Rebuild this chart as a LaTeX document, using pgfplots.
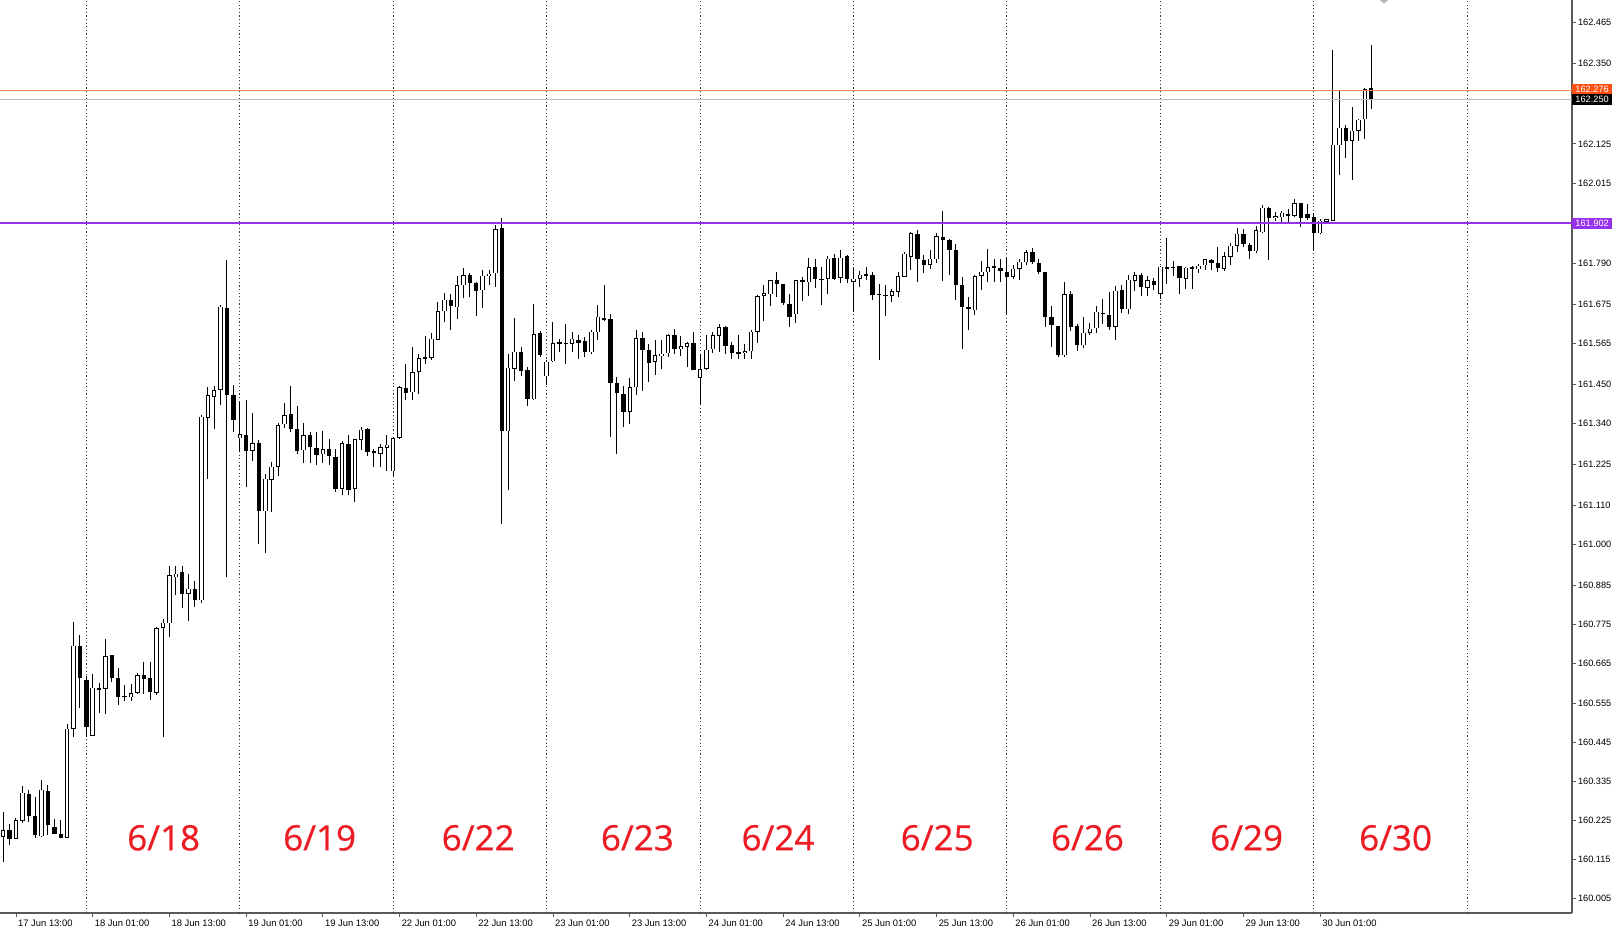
\documentclass[border=0pt]{standalone}
\usepackage{fontspec}
\setmainfont{Liberation Sans}
\newfontfamily\lblfont{Open Sans}[FakeBold=0.6]
\usepackage{pgfplots}
\usepackage{pgfplotstable}
\pgfplotsset{compat=1.18}
\definecolor{mtpurple}{RGB}{150,50,235}
\definecolor{mtorange}{RGB}{255,140,80}
\definecolor{mtorangebox}{RGB}{255,80,20}
\definecolor{datered}{RGB}{237,28,36}
\pgfplotstableread{
x o h l c
-13 160.179 160.249 160.109 160.198
-12 160.198 160.216 160.156 160.174
-11 160.174 160.233 160.172 160.226
-10 160.224 160.324 160.220 160.303
-9 160.301 160.312 160.221 160.237
-8 160.238 160.291 160.177 160.184
-7 160.182 160.340 160.179 160.312
-6 160.310 160.327 160.186 160.212
-5 160.207 160.228 160.186 160.188
-4 160.188 160.228 160.177 160.177
-3 160.177 160.497 160.177 160.483
-2 160.483 160.783 160.460 160.717
-1 160.717 160.745 160.542 160.626
0 160.619 160.633 160.460 160.488
1 160.464 160.636 160.462 160.598
2 160.598 160.611 160.527 160.593
3 160.595 160.736 160.525 160.686
4 160.689 160.691 160.614 160.626
5 160.626 160.653 160.549 160.572
6 160.574 160.605 160.561 160.572
7 160.572 160.610 160.562 160.583
8 160.583 160.640 160.581 160.633
9 160.633 160.670 160.581 160.624
10 160.624 160.670 160.562 160.586
11 160.583 160.768 160.578 160.764
12 160.766 160.792 160.460 160.780
13 160.780 160.939 160.741 160.914
14 160.909 160.939 160.858 160.919
15 160.923 160.939 160.820 160.862
16 160.862 160.919 160.787 160.876
17 160.876 160.900 160.825 160.846
18 160.844 161.364 160.837 161.359
19 161.357 161.443 161.185 161.420
20 161.415 161.445 161.326 161.434
21 161.434 161.673 161.392 161.668
22 161.665 161.799 160.909 161.420
23 161.420 161.448 161.317 161.351
24 161.298 161.401 161.260 161.310
25 161.310 161.406 161.162 161.263
26 161.263 161.370 161.237 161.284
27 161.286 161.293 161.003 161.095
28 161.094 161.199 160.975 161.185
29 161.182 161.232 161.092 161.218
30 161.218 161.340 161.192 161.335
31 161.338 161.398 161.326 161.363
32 161.368 161.445 161.316 161.326
33 161.326 161.391 161.256 161.263
34 161.265 161.340 161.228 161.307
35 161.307 161.316 161.228 161.274
36 161.272 161.316 161.223 161.251
37 161.253 161.319 161.228 161.267
38 161.269 161.298 161.223 161.248
39 161.246 161.270 161.148 161.157
40 161.157 161.291 161.141 161.285
41 161.284 161.307 161.141 161.154
42 161.157 161.298 161.120 161.295
43 161.295 161.331 161.265 161.323
44 161.323 161.326 161.248 161.260
45 161.262 161.270 161.218 161.258
46 161.256 161.282 161.218 161.275
47 161.272 161.307 161.207 161.281
48 161.206 161.302 161.192 161.298
49 161.299 161.445 161.298 161.441
50 161.438 161.507 161.406 161.426
51 161.429 161.555 161.406 161.485
52 161.485 161.535 161.424 161.523
53 161.527 161.585 161.507 161.523
54 161.525 161.594 161.518 161.578
55 161.576 161.682 161.574 161.656
56 161.656 161.707 161.625 161.688
57 161.688 161.703 161.602 161.669
58 161.668 161.754 161.635 161.729
59 161.729 161.776 161.694 161.757
60 161.757 161.762 161.694 161.733
61 161.735 161.738 161.643 161.714
62 161.714 161.771 161.664 161.754
63 161.754 161.772 161.729 161.761
64 161.761 161.897 161.724 161.885
65 161.888 161.916 161.059 161.319
66 161.319 161.535 161.153 161.497
67 161.494 161.637 161.461 161.541
68 161.541 161.555 161.473 161.489
69 161.489 161.499 161.388 161.410
70 161.408 161.675 161.407 161.591
71 161.593 161.600 161.527 161.532
72 161.473 161.518 161.448 161.513
73 161.516 161.625 161.513 161.567
74 161.569 161.579 161.541 161.565
75 161.566 161.621 161.507 161.565
76 161.565 161.598 161.541 161.579
77 161.577 161.589 161.522 161.567
78 161.571 161.583 161.525 161.541
79 161.541 161.602 161.536 161.599
80 161.597 161.675 161.576 161.641
81 161.638 161.728 161.628 161.630
82 161.632 161.649 161.302 161.452
83 161.452 161.471 161.255 161.424
84 161.424 161.445 161.331 161.373
85 161.373 161.469 161.338 161.443
86 161.441 161.604 161.420 161.579
87 161.579 161.597 161.433 161.546
88 161.546 161.564 161.457 161.510
89 161.513 161.574 161.476 161.531
90 161.531 161.574 161.494 161.536
91 161.538 161.593 161.527 161.588
92 161.588 161.607 161.536 161.548
93 161.548 161.585 161.531 161.557
94 161.557 161.569 161.499 161.566
95 161.566 161.597 161.490 161.492
96 161.469 161.537 161.396 161.494
97 161.494 161.588 161.492 161.548
98 161.548 161.597 161.538 161.588
99 161.588 161.619 161.541 161.611
100 161.613 161.615 161.536 161.557
101 161.560 161.569 161.522 161.538
102 161.541 161.588 161.522 161.539
103 161.538 161.564 161.520 161.544
104 161.544 161.604 161.522 161.600
105 161.598 161.701 161.566 161.698
106 161.698 161.729 161.627 161.706
107 161.703 161.744 161.672 161.742
108 161.742 161.766 161.696 161.731
109 161.731 161.733 161.672 161.679
110 161.677 161.703 161.611 161.641
111 161.647 161.744 161.621 161.742
112 161.740 161.752 161.683 161.742
113 161.738 161.803 161.696 161.780
114 161.780 161.801 161.722 161.747
115 161.747 161.780 161.675 161.744
116 161.747 161.810 161.705 161.803
117 161.806 161.817 161.744 161.747
118 161.750 161.829 161.735 161.806
119 161.810 161.813 161.735 161.747
120 161.738 161.775 161.654 161.747
121 161.747 161.768 161.722 161.759
122 161.758 161.778 161.742 161.756
123 161.756 161.765 161.686 161.700
124 161.703 161.731 161.518 161.701
125 161.702 161.729 161.644 161.700
126 161.700 161.719 161.682 161.712
127 161.710 161.766 161.696 161.754
128 161.752 161.822 161.750 161.817
129 161.808 161.879 161.771 161.874
130 161.872 161.885 161.738 161.801
131 161.799 161.813 161.762 161.785
132 161.785 161.827 161.775 161.803
133 161.801 161.876 161.790 161.866
134 161.864 161.937 161.741 161.857
135 161.857 161.860 161.757 161.827
136 161.827 161.846 161.688 161.729
137 161.729 161.750 161.548 161.666
138 161.668 161.696 161.604 161.660
139 161.658 161.757 161.644 161.754
140 161.754 161.797 161.716 161.766
141 161.766 161.829 161.738 161.780
142 161.782 161.803 161.738 161.776
143 161.778 161.801 161.738 161.769
144 161.766 161.804 161.649 161.752
145 161.752 161.785 161.744 161.775
146 161.775 161.803 161.744 161.794
147 161.794 161.829 161.785 161.822
148 161.822 161.834 161.787 161.794
149 161.792 161.803 161.762 161.766
150 161.766 161.768 161.611 161.640
151 161.638 161.670 161.555 161.617
152 161.613 161.616 161.527 161.532
153 161.532 161.738 161.527 161.703
154 161.705 161.714 161.600 161.613
155 161.613 161.620 161.545 161.560
156 161.560 161.641 161.552 161.595
157 161.595 161.621 161.588 161.607
158 161.607 161.669 161.595 161.654
159 161.651 161.691 161.621 161.647
160 161.644 161.710 161.602 161.612
161 161.612 161.728 161.574 161.714
162 161.714 161.731 161.651 161.660
163 161.660 161.759 161.649 161.744
164 161.741 161.766 161.714 161.757
165 161.757 161.763 161.697 161.724
166 161.722 161.754 161.697 161.743
167 161.741 161.750 161.716 161.729
168 161.705 161.782 161.690 161.780
169 161.780 161.862 161.733 161.775
170 161.779 161.797 161.756 161.778
171 161.782 161.784 161.705 161.747
172 161.747 161.780 161.716 161.778
173 161.780 161.782 161.719 161.775
174 161.775 161.787 161.761 161.784
175 161.784 161.803 161.770 161.801
176 161.801 161.803 161.770 161.791
177 161.791 161.836 161.766 161.775
178 161.775 161.822 161.770 161.810
179 161.810 161.847 161.787 161.841
180 161.841 161.888 161.822 161.874
181 161.874 161.888 161.836 161.846
182 161.841 161.848 161.801 161.825
183 161.825 161.894 161.819 161.883
184 161.878 161.953 161.874 161.946
185 161.946 161.948 161.799 161.916
186 161.916 161.934 161.909 161.922
187 161.919 161.937 161.906 161.932
188 161.928 161.943 161.906 161.926
189 161.923 161.972 161.919 161.958
190 161.958 161.960 161.891 161.916
191 161.928 161.956 161.912 161.916
192 161.919 161.932 161.827 161.874
193 161.874 161.916 161.872 161.909
194 161.906 161.916 161.902 161.913
195 161.911 162.388 161.909 162.124
196 162.122 162.276 162.038 162.171
197 162.171 162.178 162.087 162.134
198 162.134 162.229 162.025 162.162
199 162.162 162.197 162.134 162.192
200 162.194 162.281 162.140 162.278
201 162.281 162.403 162.222 162.250
}\candles
\begin{document}
\begin{tikzpicture}
\begin{axis}[
  at={(0,0)}, anchor=south west,
  x=3.19642pt, y=178.042pt,
  xmin=-13.5, xmax=232.4, ymin=159.965, ymax=162.529,
  clip=false,
  axis x line*=bottom, axis y line*=right,
  axis line style={-, black!65, line width=0.6pt},
  tick align=outside, major tick length=2pt,
  tick style={black!65, line width=0.4pt},
  xtick={-11,1,13,25,37,49,61,73,85,97,109,121,133,145,157,169,181,193},
  xticklabels={17 Jun 13:00, 18 Jun 01:00, 18 Jun 13:00, 19 Jun 01:00, 19 Jun 13:00, 22 Jun 01:00, 22 Jun 13:00, 23 Jun 01:00, 23 Jun 13:00, 24 Jun 01:00, 24 Jun 13:00, 25 Jun 01:00, 25 Jun 13:00, 26 Jun 01:00, 26 Jun 13:00, 29 Jun 01:00, 29 Jun 13:00, 30 Jun 01:00},
  xticklabel style={anchor=north west, font=\fontsize{4.7}{5}\selectfont, inner sep=0.5pt, xshift=0.4pt, yshift=-0.6pt},
  ytick={160.005,160.115,160.225,160.335,160.445,160.555,160.665,160.775,160.885,161.000,161.110,161.225,161.340,161.450,161.565,161.675,161.790,162.015,162.125,162.350,162.465},
  yticklabels={160.005,160.115,160.225,160.335,160.445,160.555,160.665,160.775,160.885,161.000,161.110,161.225,161.340,161.450,161.565,161.675,161.790,162.015,162.125,162.350,162.465},
  yticklabel style={anchor=west, font=\fontsize{4.6}{5}\selectfont, inner sep=0.5pt, xshift=0.3pt},
  xmajorgrids=false,
  extra x ticks={0,24,48,72,96,120,144,168,192,216},
  extra x tick labels={},
  extra x tick style={xmajorgrids=true, major x grid style={black!80, line width=0.5pt, dash pattern=on 0.6pt off 1.2pt}, major tick length=0pt},
]
% wicks
\addplot[draw=none, mark=none, error bars/.cd, y dir=both, y explicit, error mark=none,
  error bar style={draw=black, line width=0.5pt}]
  table[x=x, y expr={(\thisrow{h}+\thisrow{l})/2}, y error expr={(\thisrow{h}-\thisrow{l})/2}] {\candles};
% bodies (outline / black bodies)
\addplot[draw=none, mark=none, error bars/.cd, y dir=both, y explicit, error mark=none,
  error bar style={draw=black, line width=2.2pt}]
  table[x=x, y expr={(\thisrow{o}+\thisrow{c})/2}, y error expr={max(abs(\thisrow{c}-\thisrow{o})/2,0.0014)}] {\candles};
% white interiors of rising candles
\addplot[draw=none, mark=none, error bars/.cd, y dir=both, y explicit, error mark=none,
  error bar style={draw=white, line width=1.2pt}]
  table[x=x, y expr={(\thisrow{o}+\thisrow{c})/2}, y error expr={max(((\thisrow{c}-\thisrow{o})/2-0.0014)*(\thisrow{c}>\thisrow{o}),0)}] {\candles};
\addplot[draw=black!25, line width=0.5pt] coordinates {(-13.5,162.250) (232.4,162.250)};
\addplot[draw=mtorange, line width=0.5pt] coordinates {(-13.5,162.276) (232.4,162.276)};
\addplot[draw=mtpurple, line width=1.2pt] coordinates {(-13.5,161.902) (232.4,161.902)};
\fill[black!30] (axis cs:203,162.529) -- ++(-2pt,0pt) -- ++(2pt,-1.8pt) -- ++(2pt,1.8pt) -- cycle;
\node[anchor=west, fill=mtorangebox, text=white, font=\fontsize{4.6}{5}\selectfont, inner xsep=1pt, inner ysep=0pt, minimum height=5.4pt, minimum width=19.7pt] at (axis cs:232.4,162.279) {162.276};
\node[anchor=west, fill=black, text=white, font=\fontsize{4.6}{5}\selectfont, inner xsep=1pt, inner ysep=0pt, minimum height=5.2pt, minimum width=19.7pt] at (axis cs:232.4,162.250) {162.250};
\node[anchor=west, fill=mtpurple, text=white, font=\fontsize{4.6}{5}\selectfont, inner xsep=1pt, inner ysep=0pt, minimum height=5.4pt, minimum width=19.7pt] at (axis cs:232.4,161.902) {161.902};
\node[text=datered, font=\lblfont\fontsize{17.5}{20}\selectfont] at (axis cs:12.1,160.176) {6/18};
\node[text=datered, font=\lblfont\fontsize{17.5}{20}\selectfont] at (axis cs:36.5,160.176) {6/19};
\node[text=datered, font=\lblfont\fontsize{17.5}{20}\selectfont] at (axis cs:61.3,160.176) {6/22};
\node[text=datered, font=\lblfont\fontsize{17.5}{20}\selectfont] at (axis cs:86.2,160.176) {6/23};
\node[text=datered, font=\lblfont\fontsize{17.5}{20}\selectfont] at (axis cs:108.2,160.176) {6/24};
\node[text=datered, font=\lblfont\fontsize{17.5}{20}\selectfont] at (axis cs:133.1,160.176) {6/25};
\node[text=datered, font=\lblfont\fontsize{17.5}{20}\selectfont] at (axis cs:156.6,160.176) {6/26};
\node[text=datered, font=\lblfont\fontsize{17.5}{20}\selectfont] at (axis cs:181.5,160.176) {6/29};
\node[text=datered, font=\lblfont\fontsize{17.5}{20}\selectfont] at (axis cs:204.8,160.176) {6/30};
\end{axis}
\pgfresetboundingbox
\path[use as bounding box] (0,-9pt) rectangle (806pt,456.5pt);
\end{tikzpicture}
\end{document}
